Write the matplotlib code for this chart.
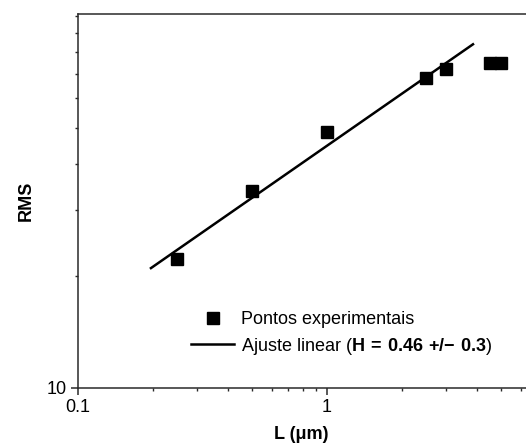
import matplotlib.pyplot as plt
from matplotlib.ticker import NullFormatter

plt.rcParams['font.family'] = ['Liberation Sans', 'DejaVu Sans']
plt.rcParams['mathtext.fontset'] = 'custom'
plt.rcParams['mathtext.rm'] = 'Liberation Sans'
plt.rcParams['mathtext.bf'] = 'Liberation Sans:bold'

# pontos experimentais (L em um, RMS)
L_um = [0.25, 0.5, 1.0, 2.5, 3.0, 4.5, 5.0]
rms = [22.2, 33.9, 48.8, 68.1, 72.0, 74.6, 74.8]

# extremos da reta de ajuste (log-log)
fit_L = [0.197, 3.85]
fit_rms = [21.0, 83.9]

x_major = [0.1, 1]
x_major_labels = ['0.1', '1']
x_minor = [0.2, 0.3, 0.4, 0.5, 0.6, 0.7, 0.8, 0.9, 2, 3, 4, 5, 6]
y_major = [10]
y_major_labels = ['10']
y_minor = [20, 30, 40, 50, 60, 70, 80, 90, 100]

fs = 13
axis_color = '#2a2a2a'

fig = plt.figure(figsize=(5.26, 4.46), dpi=100)
ax = fig.add_axes([77.5 / 526, 58 / 446, (526 - 77.5) / 526, 373.7 / 446])

ax.plot(L_um, rms, 's', color='black', ms=8, label='Pontos experimentais')
ax.plot(fit_L, fit_rms, '-', color='black', lw=1.8,
        label=r'Ajuste linear ($\mathbf{H\,=\,0.46\ {+}/{-}\ 0.3}$)')

ax.set_xscale('log')
ax.set_yscale('log')
ax.set_xlim(0.1, 6.28)
ax.set_ylim(10, 101)

ax.set_xticks(x_major)
ax.set_xticklabels(x_major_labels)
ax.set_xticks(x_minor, minor=True)
ax.xaxis.set_minor_formatter(NullFormatter())
ax.set_yticks(y_major)
ax.set_yticklabels(y_major_labels)
ax.set_yticks(y_minor, minor=True)
ax.yaxis.set_minor_formatter(NullFormatter())

ax.tick_params(which='major', direction='out', length=5, width=1.1,
               labelsize=fs, color=axis_color, pad=3)
ax.tick_params(which='minor', direction='out', length=2.5, width=1.0,
               color=axis_color)

ax.spines['right'].set_visible(False)
for s in ['left', 'bottom', 'top']:
    ax.spines[s].set_linewidth(1.1)
    ax.spines[s].set_color(axis_color)

ax.set_xlabel('L (μm)', fontsize=fs, fontweight='bold', labelpad=7)
ax.set_ylabel('RMS', fontsize=fs, fontweight='bold', labelpad=8)

ax.legend(loc='upper left', bbox_to_anchor=(191 / 526, 0.302),
          bbox_transform=fig.transFigure, frameon=False, fontsize=fs,
          numpoints=1, handlelength=2.4, handletextpad=0.35,
          labelspacing=0.4, borderpad=0, borderaxespad=0)

fig.savefig('out.png', dpi=100)
